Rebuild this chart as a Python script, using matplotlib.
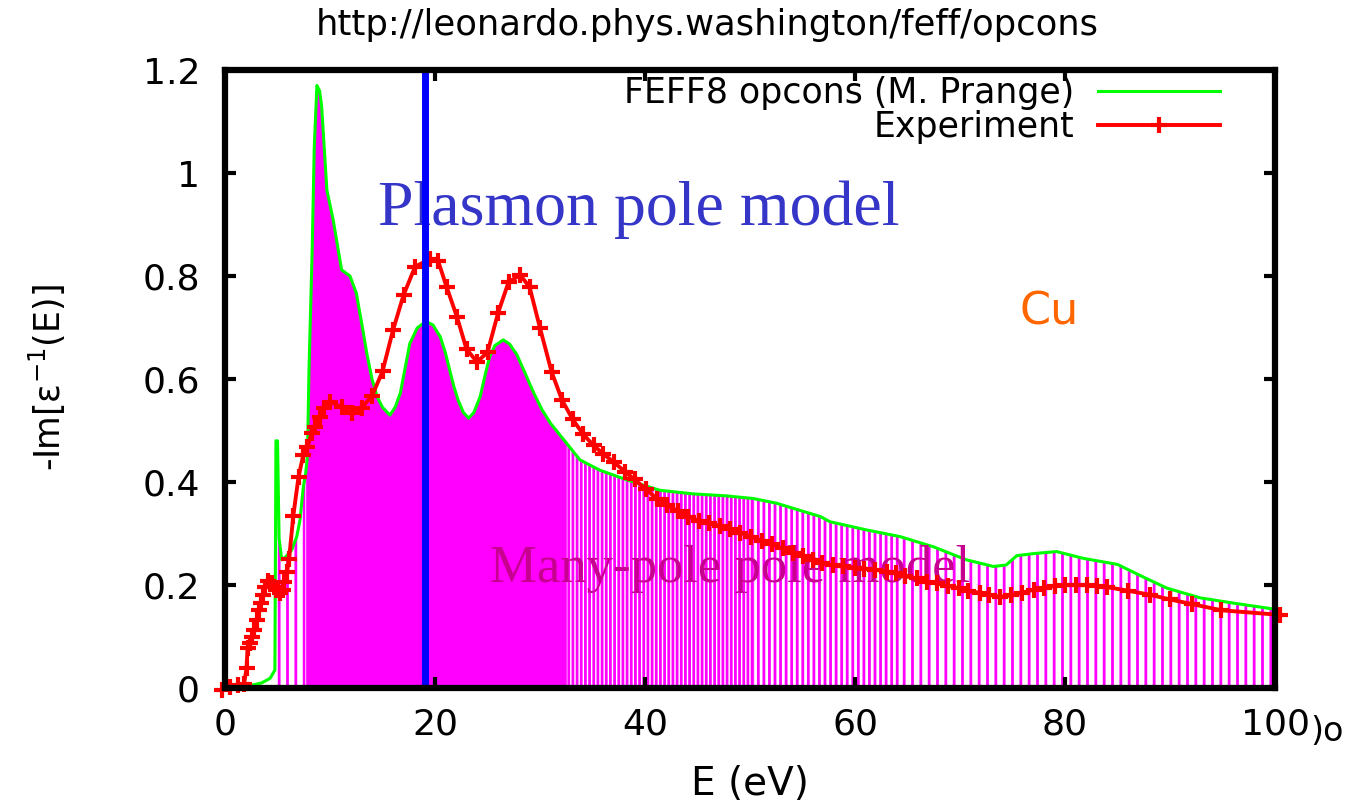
import numpy as np
import matplotlib.pyplot as plt

plt.rcParams['font.family'] = ['DejaVu Sans']
plt.rcParams['hatch.linewidth'] = 2.0

# FEFF8 opcons loss function (green curve)
e_feff = np.array([0.2, 2.0, 3.5, 4.3, 4.75, 4.85, 5.0, 5.15, 5.4, 5.8, 6.35, 6.83, 7.14,
                   7.46, 7.68, 7.85, 8.0, 8.3, 8.5, 8.75, 9.0, 9.2, 9.7, 10.3, 11.1, 11.9,
                   12.5, 13.0, 13.5, 14.0, 14.5, 15.0, 15.7, 16.2, 16.7, 17.0, 17.6, 18.3,
                   18.8, 19.3, 19.8, 20.5, 21.0, 21.4, 21.8, 22.2, 22.7, 23.2, 23.7, 24.3,
                   24.8, 25.2, 25.7, 26.5, 27.1, 27.8, 28.5, 29.4, 30.2, 31.0, 32.5, 33.8,
                   35.7, 38.3, 41.4, 44.6, 47.8, 50.3, 52.5, 54.1, 56.7, 57.6, 61.1, 64.3,
                   67.5, 70.6, 73.2, 74.4, 75.4, 77.0, 79.2, 81.7, 85.0, 87.1, 89.7, 92.9,
                   96.0, 100.0])
loss_feff = np.array([0.0, 0.003, 0.01, 0.019, 0.035, 0.48, 0.48, 0.29, 0.249, 0.255, 0.268,
                      0.294, 0.326, 0.391, 0.417, 0.45, 0.62, 0.85, 1.05, 1.17, 1.16, 1.13,
                      0.967, 0.909, 0.812, 0.8, 0.767, 0.71, 0.65, 0.6, 0.565, 0.545, 0.53,
                      0.545, 0.573, 0.605, 0.669, 0.699, 0.707, 0.71, 0.705, 0.682, 0.65,
                      0.617, 0.585, 0.559, 0.535, 0.524, 0.535, 0.566, 0.61, 0.643, 0.665,
                      0.676, 0.668, 0.647, 0.615, 0.573, 0.54, 0.514, 0.476, 0.443, 0.423,
                      0.404, 0.384, 0.377, 0.373, 0.368, 0.359, 0.349, 0.333, 0.323, 0.307,
                      0.294, 0.274, 0.249, 0.236, 0.239, 0.257, 0.261, 0.265, 0.252, 0.24,
                      0.219, 0.194, 0.175, 0.165, 0.153])

# experimental points (red curve)
e_exp = np.array([-0.3, 0.5, 1.2, 1.8, 2.05, 2.15, 2.35, 2.55, 2.8, 3.0, 3.2, 3.45, 3.65,
                  3.8, 4.1, 4.5, 4.9, 5.2, 5.5, 5.65, 5.9, 6.1, 6.5, 7.0, 7.45, 7.85, 8.25,
                  8.55, 9.05, 9.45, 10.0, 11.1, 12.1, 13.0, 14.0, 15.0, 16.0, 17.0, 18.1,
                  19.5, 20.3, 21.1, 22.1, 23.0, 24.0, 25.0, 26.0, 27.0, 28.1, 29.0, 30.0,
                  31.1, 32.1, 33.1, 34.1, 35.1, 36.0, 37.0, 38.1, 39.0, 40.1, 41.1, 42.1,
                  43.1, 44.1, 45.1, 46.1, 47.1, 48.1, 49.0, 50.1, 51.1, 52.1, 53.1, 54.1,
                  55.0, 56.0, 56.9, 57.9, 58.9, 60.0, 60.9, 61.9, 63.0, 63.9, 64.8, 65.9,
                  66.9, 67.8, 68.9, 69.9, 70.8, 71.9, 72.8, 73.8, 74.9, 75.9, 77.0, 78.0,
                  79.0, 80.0, 81.0, 82.1, 83.0, 84.0, 86.0, 88.1, 90.0, 92.1, 94.9, 100.5])
loss_exp = np.array([-0.003, 0.002, 0.005, 0.007, 0.038, 0.078, 0.088, 0.099, 0.112, 0.132,
                     0.151, 0.165, 0.18, 0.197, 0.207, 0.204, 0.19, 0.184, 0.19, 0.206,
                     0.225, 0.25, 0.334, 0.41, 0.452, 0.468, 0.495, 0.507, 0.526, 0.543,
                     0.556, 0.546, 0.534, 0.544, 0.567, 0.615, 0.695, 0.763, 0.818, 0.833,
                     0.829, 0.779, 0.72, 0.658, 0.633, 0.652, 0.728, 0.788, 0.802, 0.779,
                     0.699, 0.614, 0.559, 0.522, 0.493, 0.471, 0.455, 0.439, 0.42, 0.405,
                     0.386, 0.368, 0.355, 0.344, 0.333, 0.325, 0.32, 0.315, 0.308, 0.302,
                     0.294, 0.286, 0.279, 0.271, 0.263, 0.257, 0.249, 0.242, 0.238, 0.236,
                     0.234, 0.232, 0.23, 0.226, 0.223, 0.217, 0.213, 0.206, 0.203, 0.198,
                     0.194, 0.188, 0.185, 0.181, 0.177, 0.18, 0.185, 0.191, 0.195, 0.198,
                     0.2, 0.2, 0.2, 0.198, 0.196, 0.189, 0.181, 0.172, 0.163, 0.151, 0.142])

plasmon_e = 19.0
x_ticks = [0, 20, 40, 60, 80, 100]
y_ticks = [0, 0.2, 0.4, 0.6, 0.8, 1.0, 1.2]
y_labels = ['0', '0.2', '0.4', '0.6', '0.8', '1', '1.2']

fig = plt.figure(figsize=(13.58, 8.05), dpi=100)
ax = fig.add_axes([0.1657, 0.1453, 0.7732, 0.7677])

# many-pole model: impulses under the FEFF curve, drawn as solid / striped fills
segments = [(4.75, 7.68, '||'), (7.68, 32.5, None), (32.5, 50.3, '||||'),
            (50.3, 64.3, '|||'), (64.3, 100.0, '||')]
for lo, hi, hatch in segments:
    mask = (e_feff >= lo) & (e_feff <= hi)
    if hatch is None:
        ax.fill_between(e_feff, 0, loss_feff, where=mask, color='#ff00ff', lw=0, zorder=1)
    else:
        ax.fill_between(e_feff, 0, loss_feff, where=mask, facecolor='none',
                        edgecolor='#ff00ff', hatch=hatch, lw=0, zorder=1)

ax.plot(e_feff, loss_feff, color='#00ff00', lw=2.2, zorder=2,
        label='FEFF8 opcons (M. Prange)')
ax.plot(e_exp, loss_exp, color='#ff0000', lw=2.8, marker='+', ms=11, mew=3,
        zorder=4, clip_on=False, label='Experiment')
ax.axvline(plasmon_e, color='#0000ff', lw=5, zorder=5)

ax.text(14.57, 0.9, 'Plasmon pole model', family='Liberation Serif', fontsize=46,
        color='#3535c8', zorder=3)
ax.text(25.2, 0.205, 'Many-pole pole model', family='Liberation Serif', fontsize=38,
        color='#c8008f', zorder=3)
ax.text(75.7, 0.705, 'Cu', fontsize=32, color='#ff6600')
ax.text(1.05, -0.07, ')o', transform=ax.transAxes, fontsize=24, ha='center', va='center')

ax.set_xlim(0, 100)
ax.set_ylim(0, 1.2)
ax.set_xticks(x_ticks)
ax.set_yticks(y_ticks)
ax.set_yticklabels(y_labels)
ax.tick_params(direction='in', length=8, width=3, labelsize=26, top=True, right=True)
ax.tick_params(axis='y', pad=18)
ax.tick_params(axis='x', pad=14)
for s in ax.spines.values():
    s.set_linewidth(4.5)
    s.set_zorder(6)

ax.set_xlabel('E (eV)', fontsize=28)
ax.xaxis.set_label_coords(0.5, -0.125)
ax.set_ylabel('-Im[ε$^{-1}$(E)]', fontsize=25)
ax.yaxis.set_label_coords(-0.15, 0.502)

ax.legend(loc='upper right', bbox_to_anchor=(0.9476, 0.99), markerfirst=False,
          frameon=False, fontsize=25, handlelength=3.5, handletextpad=0.7,
          labelspacing=0.0, borderpad=0, borderaxespad=0, numpoints=1)

fig.text(0.5206, 0.969, 'http://leonardo.phys.washington/feff/opcons', fontsize=25.5,
         ha='center', va='center')

plt.savefig('out.png', dpi=100)
